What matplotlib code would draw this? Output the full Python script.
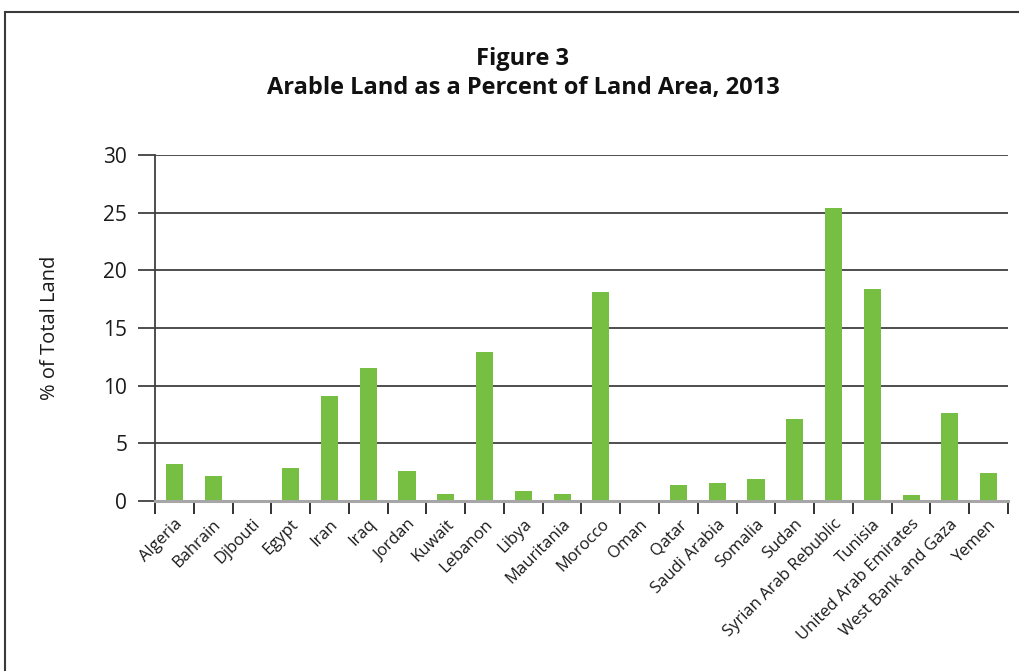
import matplotlib
matplotlib.use("Agg")
import matplotlib.pyplot as plt
import numpy as np
from matplotlib.patches import Rectangle

countries = ["Algeria", "Bahrain", "Djbouti", "Egypt", "Iran", "Iraq", "Jordan",
             "Kuwait", "Lebanon", "Libya", "Mauritania", "Morocco", "Oman", "Qatar",
             "Saudi Arabia", "Somalia", "Sudan", "Syrian Arab Rebublic", "Tunisia",
             "United Arab Emirates", "West Bank and Gaza", "Yemen"]
values = [3.2, 2.2, 0.0, 2.9, 9.1, 11.5, 2.6, 0.6, 12.9, 0.9, 0.6, 18.1, 0.0,
          1.4, 1.6, 1.9, 7.1, 25.4, 18.4, 0.5, 7.6, 2.4]
yticks = [0, 5, 10, 15, 20, 25, 30]

plt.rcParams['font.family'] = ['Open Sans', 'DejaVu Sans']

fig = plt.figure(figsize=(10.2, 6.71), dpi=100)
# frame border
fig.patches.append(Rectangle((5/1020, -0.1), 1.2, 1 - 12/671 + 0.1,
                             transform=fig.transFigure, fill=False,
                             edgecolor='#3a3a3a', linewidth=1.5))

ax = fig.add_axes([155/1020, 1 - 501/671, (1008 - 155)/1020, (501 - 155)/671])
x = np.arange(len(countries))
ax.bar(x, values, width=0.44, color='#77BF43', zorder=3)
ax.set_xlim(-0.5, len(countries) - 0.5)
ax.set_ylim(0, 30)
ax.set_yticks(yticks)
ax.set_yticklabels([str(v) for v in yticks], fontsize=15, color='#1a1a1a')
ax.yaxis.grid(True, color='#404040', linewidth=1.3, zorder=0)
ax.set_axisbelow(True)
ax.tick_params(axis='y', length=12, width=1.3, color='#404040', pad=8)

# x ticks at category boundaries
ax.set_xticks(np.arange(-0.5, len(countries)), minor=False)
ax.set_xticklabels([])
ax.set_xticks(x, minor=True)
ax.set_xticklabels(countries, minor=True, rotation=45, ha='right',
                   rotation_mode='anchor', fontsize=12, color='#1a1a1a')
ax.tick_params(axis='x', which='major', length=9, width=1.3, color='#222222')
ax.tick_params(axis='x', which='minor', length=0, pad=11)

for s in ['top', 'right']:
    ax.spines[s].set_visible(False)
ax.spines['left'].set_color('#404040')
ax.spines['left'].set_linewidth(1.3)
ax.spines['bottom'].set_color('#A6A6A6')
ax.spines['bottom'].set_linewidth(2.2)
ax.spines['bottom'].set_zorder(4)

ax.set_ylabel('% of Total Land', fontsize=14.5, color='#1a1a1a', labelpad=31)

fig.text(523/1020, 1 - 59/671, 'Figure 3', ha='center', va='center',
         fontsize=17, fontweight='bold', color='#111111')
fig.text(523/1020, 1 - 88/671, 'Arable Land as a Percent of Land Area, 2013',
         ha='center', va='center', fontsize=17, fontweight='bold', color='#111111')

fig.savefig('out.png', dpi=100)
